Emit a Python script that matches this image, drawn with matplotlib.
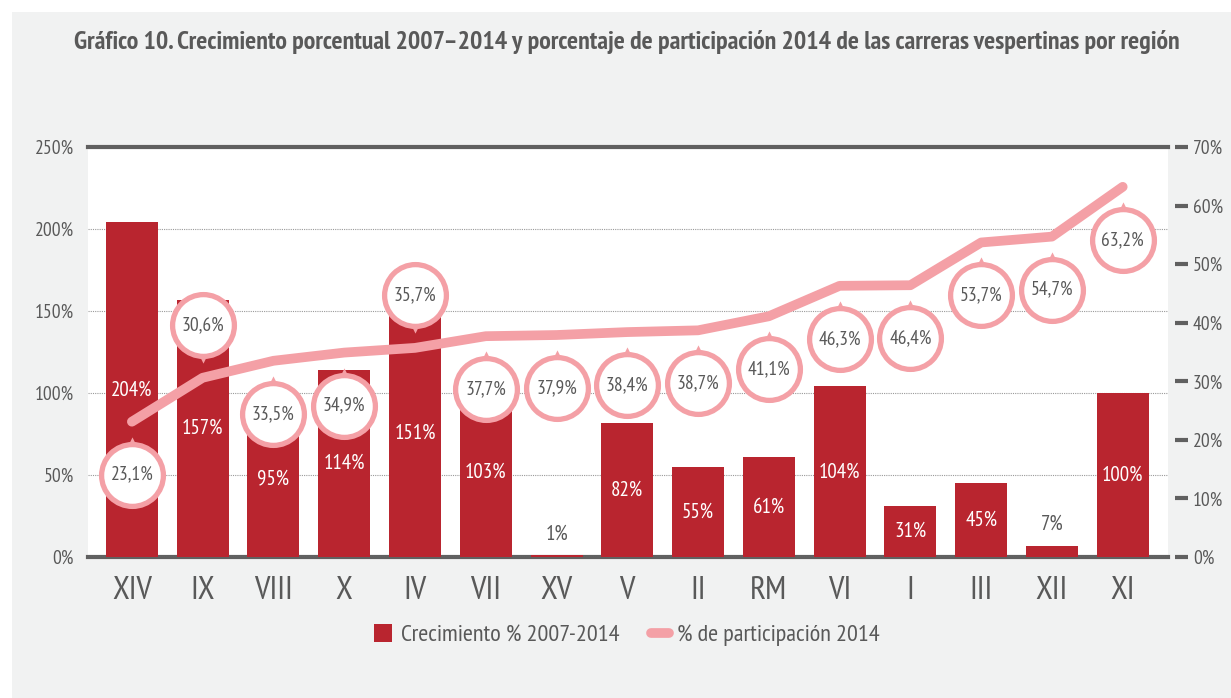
import numpy as np
import matplotlib.pyplot as plt
from matplotlib.patches import Rectangle
from matplotlib.transforms import offset_copy
from matplotlib.lines import Line2D

plt.rcParams['font.family'] = ['PT Sans Narrow', 'Asap Condensed', 'Roboto Condensed', 'Archivo Narrow', 'DejaVu Sans']

# datos
regiones = ['XIV', 'IX', 'VIII', 'X', 'IV', 'VII', 'XV', 'V', 'II', 'RM', 'VI', 'I', 'III', 'XII', 'XI']
crecimiento = [204, 157, 95, 114, 151, 103, 1, 82, 55, 61, 104, 31, 45, 7, 100]
participacion = [23.1, 30.6, 33.5, 34.9, 35.7, 37.7, 37.9, 38.4, 38.7, 41.1, 46.3, 46.4, 53.7, 54.7, 63.2]
circulo_arriba = ['IX', 'IV']

rojo = '#b9252f'
rosa = '#f4a0a6'
gris = '#595959'
fondo = '#f1f2f2'

fig = plt.figure(figsize=(12.31, 6.98), dpi=100)
fig.patches.append(Rectangle((12 / 1231, 0), 1, 1 - 12 / 698, transform=fig.transFigure,
                             facecolor=fondo, edgecolor='none', zorder=-10))

fig.text(627 / 1231, 1 - 42 / 698, 'Gráfico 10. Crecimiento porcentual 2007–2014 y porcentaje de participación 2014 de las carreras vespertinas por región',
         ha='center', va='center', fontsize=18.6, fontweight='bold', color=gris)

ax = fig.add_axes([88 / 1231, 141 / 698, 1080 / 1231, 410 / 698])
ax.set_facecolor('white')
x = np.arange(len(regiones))
ax.bar(x, crecimiento, width=0.735, color=rojo, zorder=2)
ax.set_xlim(-0.62, 14.64)
ax.set_ylim(0, 250)
ax.set_yticks([0, 50, 100, 150, 200, 250])
ax.set_yticklabels(['%d%%' % v for v in [0, 50, 100, 150, 200, 250]])
ax.tick_params(axis='y', length=0, pad=10, labelsize=14, labelcolor=gris)
ax.set_xticks(x)
ax.set_xticklabels(regiones)
ax.tick_params(axis='x', length=0, pad=14, labelsize=24, labelcolor=gris)
ax.grid(axis='y', linestyle=(0, (1, 1)), color='#9a9a9a', linewidth=0.8, zorder=0)
for s in ['left', 'right']:
    ax.spines[s].set_visible(False)
for s in ['top', 'bottom']:
    ax.spines[s].set_color('#606060')
    ax.spines[s].set_linewidth(3)
ax.spines['bottom'].set_zorder(1)

# etiquetas de barras
for i, v in enumerate(crecimiento):
    if v < 20:
        ax.text(i, v + 13, '%d%%' % v, ha='center', va='center', fontsize=15, color=gris, zorder=3)
    else:
        ax.text(i, v / 2, '%d%%' % v, ha='center', va='center', fontsize=15, color='white', zorder=3)

ax2 = ax.twinx()
ax2.set_ylim(0, 70)
ax2.set_yticks(range(0, 80, 10))
ax2.set_yticklabels(['%d%%' % v for v in range(0, 80, 10)])
ax2.tick_params(axis='y', length=9, width=3, color='#606060', pad=4, labelsize=14, labelcolor=gris)
ax2.spines['right'].set_position(('outward', 5))
for s in ['left', 'right', 'top', 'bottom']:
    ax2.spines[s].set_visible(False)
ax2.plot(x, participacion, color=rosa, linewidth=7, solid_capstyle='round', solid_joinstyle='round', zorder=3)

abajo = offset_copy(ax2.transData, fig=fig, x=0, y=-53, units='dots')
arriba = offset_copy(ax2.transData, fig=fig, x=0, y=53, units='dots')
punta_abajo = offset_copy(ax2.transData, fig=fig, x=0, y=-53 + 33, units='dots')
punta_arriba = offset_copy(ax2.transData, fig=fig, x=0, y=53 - 33, units='dots')
for i, v in enumerate(participacion):
    if regiones[i] in circulo_arriba:
        tr, trp, mk = arriba, punta_arriba, 'v'
    else:
        tr, trp, mk = abajo, punta_abajo, '^'
    ax2.scatter([i], [v], s=54, marker=mk, color=rosa, transform=trp, zorder=4, linewidths=0)
    ax2.scatter([i], [v], s=1980, facecolor='white', edgecolor=rosa, linewidths=3.8, transform=tr, zorder=5)
    ax2.text(i, v, ('%.1f%%' % v).replace('.', ','), ha='center', va='center', fontsize=14,
             color=gris, transform=tr, zorder=6)

handles = [Rectangle((0, 0), 1, 1, facecolor=rojo),
           Line2D([0], [0], color=rosa, linewidth=7, solid_capstyle='round')]
fig.legend(handles, ['Crecimiento % 2007-2014', '% de participación 2014'], loc='center',
           bbox_to_anchor=(627 / 1231, 1 - 635 / 698), ncol=2, frameon=False, fontsize=17.5,
           labelcolor=gris, handlelength=0.75, handleheight=0.75, handletextpad=0.35, columnspacing=1.3)

fig.savefig('out.png', dpi=100, facecolor='white')
